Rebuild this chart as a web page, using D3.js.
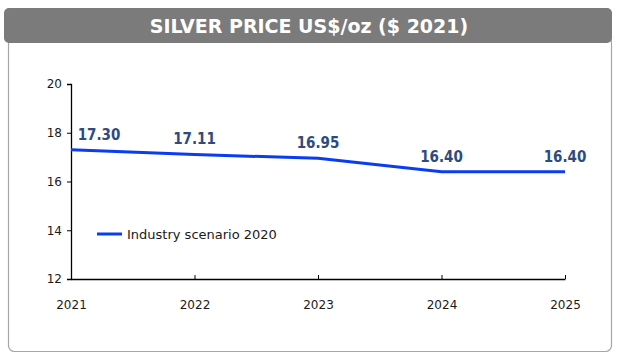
<!DOCTYPE html>
<html>
<head>
<meta charset="utf-8">
<script src="https://cdn.jsdelivr.net/npm/d3@7"></script>
<style>
  body { margin: 0; background: #fff; }
  svg { display: block; }
</style>
</head>
<body>
<svg id="chart"></svg>
<script>
const years = [2021, 2022, 2023, 2024, 2025];
const prices = [17.30, 17.11, 16.95, 16.40, 16.40];
const yTicks = [12, 14, 16, 18, 20];
const seriesName = "Industry scenario 2020";
const title = "SILVER PRICE US$/oz ($ 2021)";

let width = 624;
let height = 362;

let svg = d3.select("#chart").attr("width", width).attr("height", height);

// outer frame
svg.append("rect")
  .attr("x", 8.5).attr("y", 36.5)
  .attr("width", 603).attr("height", 315)
  .attr("rx", 6)
  .attr("fill", "#fff")
  .attr("stroke", "#a6a6a6")
  .attr("stroke-width", 1.2);

// title bar
svg.append("rect")
  .attr("x", 4).attr("y", 8)
  .attr("width", 608).attr("height", 35)
  .attr("rx", 5)
  .attr("fill", "#7b7b7b");

svg.append("text")
  .attr("x", 309).attr("y", 33)
  .attr("text-anchor", "middle")
  .attr("fill", "#fff")
  .style("font-family", "'DejaVu Sans', sans-serif")
  .style("font-weight", "bold")
  .style("font-size", "19px")
  .text(title);

let xScale = d3.scalePoint().domain(years).range([71, 565]);
let yScale = d3.scaleLinear().domain([12, 20]).range([279, 84]);

// y axis
let yAxis = d3.axisLeft(yScale).tickValues(yTicks).tickSize(4).tickPadding(5);
let gy = svg.append("g")
  .attr("transform", "translate(71,0)")
  .call(yAxis);

// x axis, ticks pointing up
let xAxis = d3.axisBottom(xScale).tickSize(0).tickPadding(21);
let gx = svg.append("g")
  .attr("transform", "translate(0,279)")
  .call(xAxis);

gx.selectAll(".tick").append("line")
  .attr("y1", 0).attr("y2", -4)
  .attr("stroke", "#000");

[gx, gy].forEach((g) => {
  g.select(".domain").attr("stroke", "#000").attr("stroke-width", 1.3);
  g.selectAll(".tick line").attr("stroke", "#000");
  g.selectAll("text")
    .attr("fill", "#1a1a1a")
    .style("font-family", "'DejaVu Sans', sans-serif")
    .style("font-size", "12px");
});

// line
let line = d3.line()
  .x((d, i) => xScale(years[i]))
  .y((d) => yScale(d));

svg.append("path")
  .datum(prices)
  .attr("d", line)
  .attr("fill", "none")
  .attr("stroke", "#0a3cf0")
  .attr("stroke-width", 3);

// data labels
svg.selectAll(".lbl")
  .data(prices)
  .enter()
  .append("text")
  .attr("class", "lbl")
  .attr("x", (d, i) => xScale(years[i]) + (i === 0 ? 28 : 0))
  .attr("y", (d) => yScale(d) - 10)
  .attr("text-anchor", "middle")
  .attr("fill", "#2f4a80")
  .style("font-family", "'DejaVu Sans Condensed', 'DejaVu Sans', sans-serif")
  .style("font-weight", "bold")
  .style("font-size", "15px")
  .text((d) => d.toFixed(2));

// legend
svg.append("line")
  .attr("x1", 97).attr("x2", 122)
  .attr("y1", 234).attr("y2", 234)
  .attr("stroke", "#0a3cf0")
  .attr("stroke-width", 3);

svg.append("text")
  .attr("x", 127).attr("y", 238.5)
  .attr("fill", "#1a1a1a")
  .style("font-family", "'DejaVu Sans', sans-serif")
  .style("font-size", "13px")
  .text(seriesName);
</script>
</body>
</html>
